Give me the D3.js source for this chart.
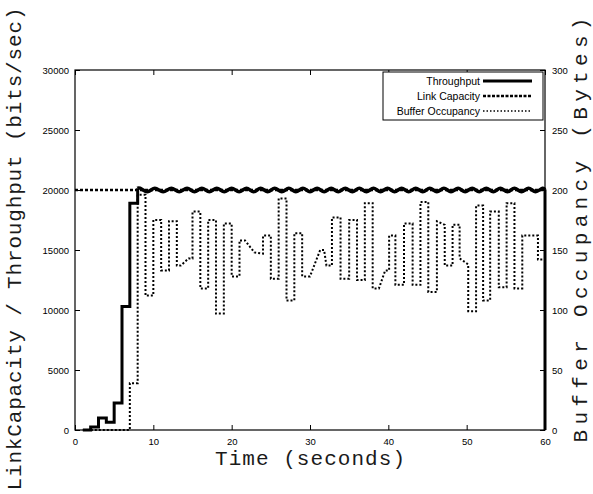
<!DOCTYPE html>
<html>
<head>
  <meta charset="UTF-8">
  <style>
    body {
      margin: 0;
      background: #fff;
    }
    svg {
      display: block;
    }
    .tick text {
      font-family: 'Liberation Sans', Arial, sans-serif;
      font-size: 9.5px;
      fill: #000;
    }
    .axis-title {
      font-family: 'Liberation Mono', 'Courier New', monospace;
      font-size: 21px;
      fill: #1a1a1a;
    }
    .legend text {
      font-family: 'Liberation Sans', Arial, sans-serif;
      font-size: 10.5px;
      fill: #000;
    }
  </style>
  <script src="https://d3js.org/d3.v7.min.js"></script>
</head>
<body>
<div id="chart"></div>
<script>
// x axis ticks (seconds), left ticks (bits/sec), right ticks (bytes)
const timeTicks = [0, 10, 20, 30, 40, 50, 60];
const rateTicks = [0, 5000, 10000, 15000, 20000, 25000, 30000];
const bufferTicks = [0, 50, 100, 150, 200, 250, 300];

// link capacity is flat
const capacityTimes = [0, 60];
const capacityValues = [20000, 20000];

// throughput ramp, sampled each second (step after)
const rampTimes = [1, 2, 3, 4, 5, 6, 7, 8];
const rampValues = [0, 250, 1000, 650, 2250, 10300, 18900, 20150];

// throughput wobble around capacity once it is reached
const waveTimes = [8, 8.3, 9.25, 10.2, 11.25, 12.3, 13.3, 14.3, 15.25, 16.2, 17.15, 18.1, 19.05, 20.0,
  20.95, 21.9, 22.8, 23.7, 24.6, 25.5, 26.4, 27.3, 28.2, 29.1, 30.0, 30.9, 31.8, 32.7, 33.6, 34.5,
  35.4, 36.3, 37.2, 38.1, 39.0, 39.9, 40.8, 41.7, 42.6, 43.5, 44.4, 45.3, 46.2, 47.1, 48.0, 48.9,
  49.8, 50.7, 51.6, 52.5, 53.4, 54.3, 55.2, 56.1, 57.0, 57.9, 58.8, 59.7, 60];
const waveValues = [20150, 20150, 19850, 20150, 19850, 20150, 19850, 20150, 19850, 20150, 19850, 20150, 19850, 20150,
  19850, 20150, 19850, 20150, 19850, 20150, 19850, 20150, 19850, 20150, 19850, 20150, 19850, 20150, 19850, 20150,
  19850, 20150, 19850, 20150, 19850, 20150, 19850, 20150, 19850, 20150, 19850, 20150, 19850, 20150, 19850, 20150,
  19850, 20150, 19850, 20150, 19850, 20150, 19850, 20150, 19850, 20150, 19850, 20150, 20000];

// buffer occupancy in bytes
const bufferTimes = [1, 7, 7, 8, 8, 9, 9, 10, 10, 11, 11, 12, 12, 13, 13, 13.5, 14.5, 15, 15, 16, 16, 17, 17, 18,
  18, 19, 19, 20, 20, 21, 21, 21.7, 22.9, 24, 24, 25, 25, 26, 26, 27, 27, 28, 28, 29, 29, 30, 31.3, 31.8, 32.1,
  32.8, 32.8, 33.9, 33.9, 35, 35, 36, 36, 37, 37, 38, 38, 38.8, 39.6, 40.1, 40.1, 40.9, 40.9, 42, 42, 43.1,
  43.1, 44.1, 44.1, 45.1, 45.1, 46.2, 46.2, 47.2, 47.2, 48.2, 48.2, 49.1, 49.1, 50.2, 50.2, 51.2, 51.2, 52.1,
  52.1, 53, 53, 54.1, 54.1, 55.1, 55.1, 56.1, 56.1, 57.1, 57.1, 59.1, 59.1, 60];
const bufferValues = [0, 0, 39, 39, 196, 196, 112, 112, 175, 175, 133, 133, 174, 174, 137, 137, 143, 143, 182, 182,
  118, 118, 175, 175, 97, 97, 172, 172, 128, 128, 158, 158, 148, 147, 162, 162, 126, 126, 193, 193, 108, 108,
  164, 164, 128, 128, 150, 150, 137, 137, 177, 177, 126, 126, 175, 175, 125, 125, 189, 189, 118, 118, 133, 133,
  162, 162, 121, 121, 172, 172, 121, 121, 190, 190, 115, 115, 174, 171, 137, 137, 171, 171, 143, 138, 99, 99,
  187, 187, 108, 108, 182, 182, 119, 119, 189, 189, 118, 118, 162, 162, 142, 142];

const legendNames = ['Throughput', 'Link Capacity', 'Buffer Occupancy'];

const width = 593, height = 494;
const margin = {top: 70, right: 48, bottom: 64, left: 75};
const plotW = width - margin.left - margin.right;
const plotH = height - margin.top - margin.bottom;

const svg = d3.select('#chart').append('svg')
  .attr('width', width)
  .attr('height', height);

const g = svg.append('g')
  .attr('transform', `translate(${margin.left},${margin.top})`);

const x = d3.scaleLinear().domain([0, 60]).range([0, plotW]);
const yRate = d3.scaleLinear().domain([0, 30000]).range([plotH, 0]);
const yBuf = d3.scaleLinear().domain([0, 300]).range([plotH, 0]);
const plain = d3.format('d');

// axes, gnuplot style ticks pointing inward
g.append('g')
  .attr('transform', `translate(0,${plotH})`)
  .call(d3.axisBottom(x).tickValues(timeTicks).tickFormat(plain).tickSize(-5).tickSizeOuter(0).tickPadding(8));
g.append('g')
  .call(d3.axisTop(x).tickValues(timeTicks).tickSize(-5).tickSizeOuter(0).tickFormat(''));
g.append('g')
  .call(d3.axisLeft(yRate).tickValues(rateTicks).tickFormat(plain).tickSize(-5).tickSizeOuter(0).tickPadding(6));
g.append('g')
  .attr('transform', `translate(${plotW},0)`)
  .call(d3.axisRight(yBuf).tickValues(bufferTicks).tickFormat(plain).tickSize(-5).tickSizeOuter(0).tickPadding(7));

g.selectAll('.domain').remove();
g.selectAll('.tick line').attr('stroke', '#000');

g.append('rect')
  .attr('width', plotW)
  .attr('height', plotH)
  .attr('fill', 'none')
  .attr('stroke', '#000')
  .attr('stroke-width', 1.2);

// series
const rateLine = d3.line().x(d => x(d[0])).y(d => yRate(d[1]));
const bufLine = d3.line().x(d => x(d[0])).y(d => yBuf(d[1]));

g.append('path')
  .datum(d3.zip(capacityTimes, capacityValues))
  .attr('fill', 'none')
  .attr('stroke', '#000')
  .attr('stroke-width', 2.5)
  .attr('stroke-dasharray', '3,2')
  .attr('d', rateLine);

g.append('path')
  .datum(d3.zip(bufferTimes, bufferValues))
  .attr('fill', 'none')
  .attr('stroke', '#000')
  .attr('stroke-width', 2)
  .attr('stroke-dasharray', '2,2')
  .attr('d', bufLine);

g.append('path')
  .datum(d3.zip(rampTimes, rampValues))
  .attr('fill', 'none')
  .attr('stroke', '#000')
  .attr('stroke-width', 3)
  .attr('d', d3.line().x(d => x(d[0])).y(d => yRate(d[1])).curve(d3.curveStepAfter));

g.append('path')
  .datum(d3.zip(waveTimes, waveValues))
  .attr('fill', 'none')
  .attr('stroke', '#000')
  .attr('stroke-width', 3.5)
  .attr('d', d3.line().x(d => x(d[0])).y(d => yRate(d[1])).curve(d3.curveCardinal));

// drop at the end of the run, lies on the right border
g.append('line')
  .attr('x1', x(60)).attr('x2', x(60))
  .attr('y1', yRate(20000)).attr('y2', yRate(0))
  .attr('stroke', '#000')
  .attr('stroke-width', 3);

// legend
const legend = g.append('g').attr('class', 'legend');
legend.append('rect')
  .attr('x', 308).attr('y', 2)
  .attr('width', 160).attr('height', 48)
  .attr('fill', '#fff')
  .attr('stroke', '#000')
  .attr('stroke-width', 1);

const styles = [
  {w: 3, dash: null},
  {w: 2.5, dash: '3,1.5'},
  {w: 1.5, dash: '1.5,2'}
];
legendNames.forEach((name, i) => {
  const ly = 11 + i * 15;
  legend.append('text')
    .attr('x', 405).attr('y', ly)
    .attr('dy', '0.35em')
    .attr('text-anchor', 'end')
    .text(name);
  legend.append('line')
    .attr('x1', 408).attr('x2', 457)
    .attr('y1', ly).attr('y2', ly)
    .attr('stroke', '#000')
    .attr('stroke-width', styles[i].w)
    .attr('stroke-dasharray', styles[i].dash);
});

// axis titles
svg.append('text')
  .attr('class', 'axis-title')
  .attr('x', 310).attr('y', 465)
  .attr('text-anchor', 'middle')
  .attr('textLength', 190)
  .attr('lengthAdjust', 'spacing')
  .text('Time (seconds)');

svg.append('text')
  .attr('class', 'axis-title')
  .attr('transform', 'translate(21,249) rotate(-90)')
  .attr('text-anchor', 'middle')
  .attr('textLength', 483)
  .attr('lengthAdjust', 'spacing')
  .text('LinkCapacity / Throughput (bits/sec)');

svg.append('text')
  .attr('class', 'axis-title')
  .attr('transform', 'translate(587,230) rotate(-90)')
  .attr('text-anchor', 'middle')
  .attr('textLength', 425)
  .attr('lengthAdjust', 'spacing')
  .text('Buffer Occupancy (Bytes)');
</script>
</body>
</html>
